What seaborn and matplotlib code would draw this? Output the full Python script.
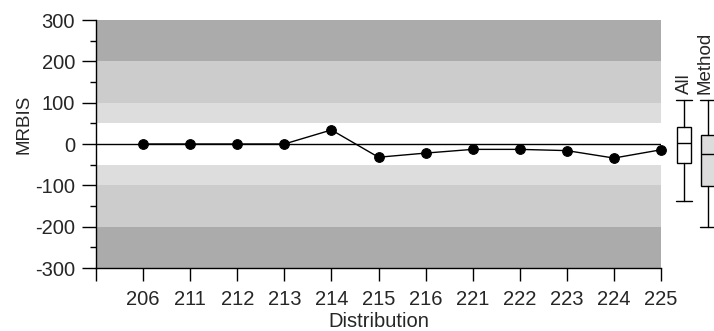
import numpy as np
import pandas as pd
import matplotlib
matplotlib.use("Agg")
import matplotlib.pyplot as plt
import seaborn as sns

# ---- data ----
distributions = ["206", "211", "212", "213", "214", "215", "216", "221", "222", "223", "224", "225"]
mrbis = [0, 0, 0, 0, 34, -32, -22, -13, -13, -16, -34, -14]

box_labels = ["All", "Method"]
box_whislo = [-138, -200]
box_q1 = [-46, -102]
box_med = [2, -24]
box_q3 = [41, 22]
box_whishi = [107, 107]
box_fill = ["white", "#dcdcdc"]

y_ticks = [-300, -200, -100, 0, 100, 200, 300]

sns.set_theme(style="white")
plt.rcParams["font.family"] = ["Liberation Sans", "DejaVu Sans"]

W, H = 714, 331
fig = plt.figure(figsize=(W / 100, H / 100), dpi=100)
ax = fig.add_axes([96 / W, (H - 268) / H, 565 / W, 248 / H])

# background bands
bands = [(200, 300, "#ababab"), (100, 200, "#cccccc"), (50, 100, "#dddddd"),
         (-50, 50, "white"), (-100, -50, "#dddddd"), (-200, -100, "#cccccc"),
         (-300, -200, "#ababab")]
for lo, hi, c in bands:
    ax.axhspan(lo, hi, color=c, lw=0, zorder=0)
ax.axhline(0, color="black", lw=1, zorder=1)

df = pd.DataFrame({"pos": np.arange(1, len(distributions) + 1), "MRBIS": mrbis})
sns.lineplot(data=df, x="pos", y="MRBIS", ax=ax, color="black", lw=1,
             marker="o", markersize=7, markeredgecolor="black", zorder=3, clip_on=False)

ax.set_xlim(0, len(distributions))
ax.set_ylim(-300, 300)
ax.set_xticks(range(0, len(distributions) + 1))
ax.set_xticklabels([""] + distributions, fontsize=14.5)
ax.set_yticks(y_ticks)
ax.set_yticklabels([str(v) for v in y_ticks], fontsize=14.5)
ax.set_yticks(np.arange(-250, 300, 100), minor=True)
ax.tick_params(axis="x", which="major", direction="out", length=9, width=1, color="black", pad=7, bottom=True)
ax.tick_params(axis="y", which="major", direction="out", length=10, width=1, color="black", pad=5, left=True)
ax.tick_params(axis="y", which="minor", direction="out", length=4.5, width=1, color="black", left=True)
for s in ["top", "right"]:
    ax.spines[s].set_visible(False)
for s in ["left", "bottom"]:
    ax.spines[s].set_color("black")
    ax.spines[s].set_linewidth(1)
    ax.spines[s].set_zorder(4)
ax.set_xlabel("Distribution", fontsize=14.5, labelpad=2)
ax.set_ylabel("MRBIS", fontsize=13.5)
ax.yaxis.set_label_coords(-0.112, 0.58)
ax.grid(False)

# side boxplots
bax = fig.add_axes([672 / W, (H - 268) / H, 48 / W, 248 / H])
stats = []
for i in range(len(box_labels)):
    stats.append(dict(med=box_med[i], q1=box_q1[i], q3=box_q3[i],
                      whislo=box_whislo[i], whishi=box_whishi[i], fliers=[], label=box_labels[i]))
bp = bax.bxp(stats, positions=[1, 2], widths=0.6, patch_artist=True, showfliers=False,
             boxprops=dict(color="black", lw=1), medianprops=dict(color="black", lw=1),
             whiskerprops=dict(color="black", lw=1), capprops=dict(color="black", lw=1),
             capwidths=0.65)
for patch, c in zip(bp["boxes"], box_fill):
    patch.set_facecolor(c)
bax.set_xlim(0.5, 2.5)
bax.set_ylim(-300, 300)
bax.axis("off")
label_x = [1.0, 1.88]
for i, lab in enumerate(box_labels):
    bax.text(label_x[i], box_whishi[i] + 15, lab, rotation=90, ha="center", va="bottom",
             fontsize=13.5, clip_on=False)

fig.savefig("out.png", dpi=100)
